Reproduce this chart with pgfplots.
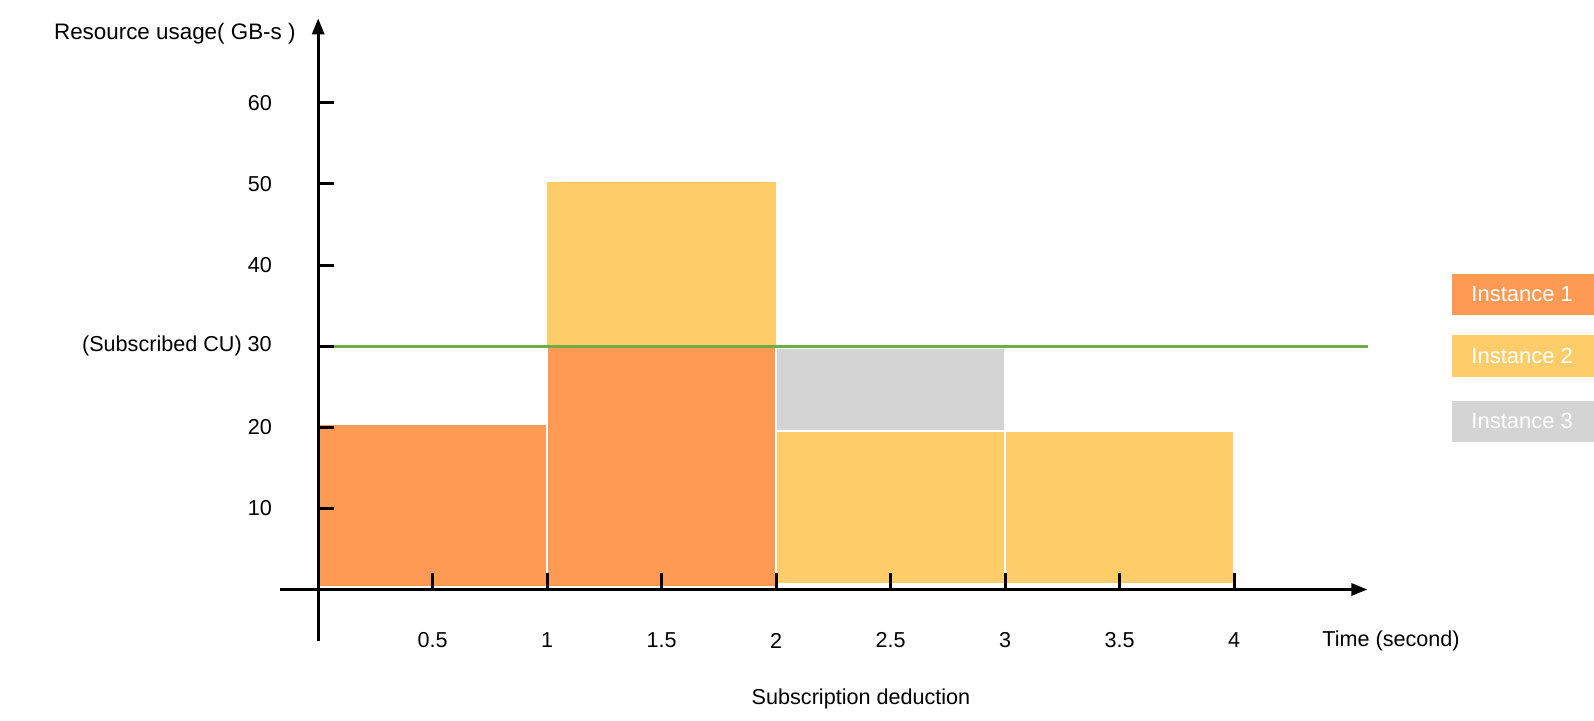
\documentclass[border=0pt]{standalone}
\usepackage{fontspec}
\setmainfont{Liberation Sans}
\usepackage{pgfplots}
\pgfplotsset{compat=1.18}
\usetikzlibrary{arrows.meta}
\definecolor{inst1}{HTML}{FF9A55}
\definecolor{inst2}{HTML}{FECD69}
\definecolor{inst3}{HTML}{D4D4D4}
\definecolor{cugreen}{HTML}{70AD47}
\begin{document}
\begin{tikzpicture}[font=\fontsize{10.8}{13}\selectfont]
\useasboundingbox (-159.1pt,-65.75pt) rectangle (637.9pt,294.75pt);
\begin{axis}[
  anchor=origin, at={(0pt,0pt)},
  x=114.49pt, y=4.056pt,
  xmin=-0.169, xmax=4.582, ymin=-6.29, ymax=70.4,
  axis lines=middle,
  axis line style={line width=1.5pt, -{Triangle[width=6pt,length=8pt]}},
  axis on top,
  xtick={0.5,1,1.5,2,2.5,3,3.5,4},
  xticklabels={0.5,1,1.5,2,2.5,3,3.5,4},
  ytick={10,20,30,40,50,60},
  yticklabels={10,20,(Subscribed CU) 30,40,50,60},
  tick align=inside,
  major tick length=8pt,
  tick style={line width=1.5pt, black},
  xticklabel style={anchor=center, inner sep=0pt, yshift=-25.5pt},
  yticklabel style={anchor=east, inner sep=0pt, xshift=-23pt},
  /pgf/number format/assume math mode=true,
  clip=false,
]
% Instance 1
\addplot[fill=inst1, draw=white, line width=1pt] coordinates {(0,0.3) (0,20.4) (1,20.4) (1,0.3)} -- cycle;
\addplot[fill=inst1, draw=white, line width=1pt] coordinates {(1,0.3) (1,30) (2,30) (2,0.3)} -- cycle;
% Instance 2
\addplot[fill=inst2, draw=none] coordinates {(1,30) (1,50.2) (2,50.2) (2,30)} -- cycle;
\addplot[fill=inst2, draw=white, line width=1pt] coordinates {(2,0.7) (2,19.5) (3,19.5) (3,0.7)} -- cycle;
\addplot[fill=inst2, draw=white, line width=1pt] coordinates {(3,0.7) (3,19.6) (4,19.6) (4,0.7)} -- cycle;
% Instance 3
\addplot[fill=inst3, draw=white, line width=1pt] coordinates {(2,19.5) (2,29.8) (3,29.8) (3,19.5)} -- cycle;
% Subscribed CU
\addplot[cugreen, line width=1.5pt] coordinates {(0,30) (4.585,30)};
\end{axis}
\node[anchor=base east, inner sep=0pt, font=\fontsize{11.2}{13}\selectfont] at (-11.1pt,275.1pt) {Resource usage( GB-s )};
\node[inner sep=0pt] at (536.4pt,-25.5pt) {Time (second)};
\node[inner sep=0pt] at (271.4pt,-54.95pt) {Subscription deduction};
\fill[inst1] (566.9pt,137.4pt) rectangle (637.9pt,157.8pt);
\node[white, inner sep=0pt, font=\fontsize{11}{13}\selectfont] at (602pt,147.6pt) {Instance 1};
\fill[inst2] (566.9pt,106.4pt) rectangle (637.9pt,127.0pt);
\node[white, inner sep=0pt, font=\fontsize{11}{13}\selectfont] at (602pt,116.7pt) {Instance 2};
\fill[inst3] (566.9pt,73.9pt) rectangle (637.9pt,94.25pt);
\node[white, inner sep=0pt, font=\fontsize{11}{13}\selectfont] at (602pt,84.1pt) {Instance 3};
\end{tikzpicture}
\end{document}
